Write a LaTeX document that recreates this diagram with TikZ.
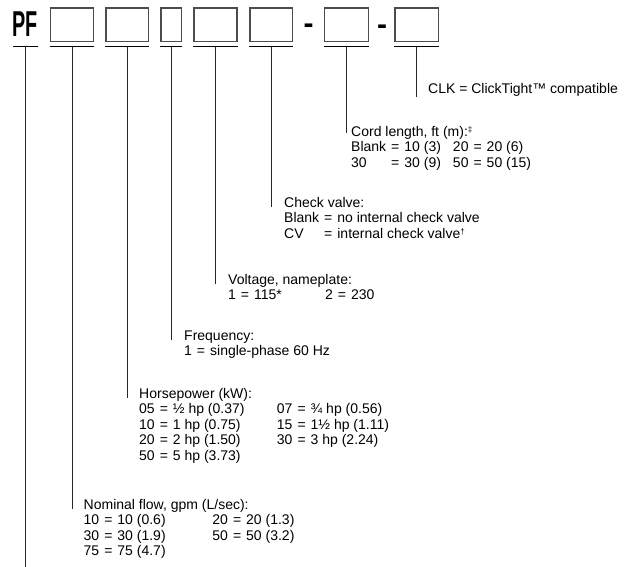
\documentclass[tikz,border=0pt]{standalone}
\usepackage{fontspec}
\usetikzlibrary{calc}
\setmainfont{Liberation Sans}
\newfontfamily\pffont{Liberation Sans}[FakeStretch=0.55]
\newcommand{\eqs}{\hspace{5pt}=\hspace{5pt}}
\newcommand{\fnm}[1]{\raisebox{3.5pt}{\fontsize{8}{8}\selectfont #1}}
\begin{document}
\begin{tikzpicture}[x=1pt,y=-1pt,
  codebox/.style={draw=black!70, line width=1.2pt, inner sep=0pt, minimum height=33.7pt},
  uline/.style={line width=0.9pt, black},
  vline/.style={line width=0.9pt, black!85},
  lbl/.style={anchor=base west, inner sep=0pt, align=left, font=\fontsize{14}{15.5}\selectfont},
  dashtxt/.style={anchor=base, inner sep=0pt, font=\fontsize{30}{30}\selectfont\bfseries}]
\useasboundingbox (0,0) rectangle (634,567);
% code
\node[anchor=base west, inner sep=0pt, font=\pffont\fontsize{36}{36}\selectfont\bfseries] (pf) at (12.5,37) {PF};
\node[codebox, minimum width=42.6pt] (b1) at (72,24.85) {};
\node[codebox, minimum width=42.6pt] (b2) at (127.3,24.85) {};
\node[codebox, minimum width=20.7pt] (b3) at (171.3,24.85) {};
\node[codebox, minimum width=43pt] (b4) at (215.5,24.85) {};
\node[codebox, minimum width=42.7pt] (b5) at (271.3,24.85) {};
\node[dashtxt] (d1) at (308.5,33.5) {-};
\node[codebox, minimum width=43.6pt] (b6) at (346.5,24.85) {};
\node[dashtxt] (d2) at (382,34.5) {-};
\node[codebox, minimum width=43.7pt] (b7) at (416.8,24.85) {};
% underlines
\coordinate (pfl) at (13,46); \coordinate (pfr) at (38,46);
\draw[uline] (pfl) -- (pfr);
\foreach \b in {b1,b2,b3,b4,b5,b6,b7}{
  \draw[uline] ([yshift=-4.3pt]\b.south west) -- ([yshift=-4.3pt]\b.south east);
}
% labels
\node[lbl] (t7) at (428,94) {CLK = ClickTight™ compatible};
\node[lbl] (t6) at (351,136) {\begin{tabular}[t]{@{}l@{\eqs}p{36.6pt}@{\hspace{12pt}}l@{\eqs}l@{}}
\multicolumn{4}{@{}l@{}}{Cord length, ft (m):\fnm{‡}}\\
Blank & 10 (3) & 20 & 20 (6)\\
30 & 30 (9) & 50 & 50 (15)
\end{tabular}};
\node[lbl] (t5) at (284,207) {\begin{tabular}[t]{@{}l@{\eqs}l@{}}
\multicolumn{2}{@{}l@{}}{Check valve:}\\
Blank & no internal check valve\\
CV & internal check valve\fnm{†}
\end{tabular}};
\node[lbl] (t4) at (228,284) {\begin{tabular}[t]{@{}l@{\eqs}p{71pt}@{}l@{\eqs}l@{}}
\multicolumn{4}{@{}l@{}}{Voltage, nameplate:}\\
1 & 115* & 2 & 230
\end{tabular}};
\node[lbl] (t3) at (184,340) {\begin{tabular}[t]{@{}l@{\eqs}l@{}}
\multicolumn{2}{@{}l@{}}{Frequency:}\\
1 & single-phase 60 Hz
\end{tabular}};
\node[lbl] (t2) at (139,398) {\begin{tabular}[t]{@{}l@{\eqs}p{104pt}@{}l@{\eqs}l@{}}
\multicolumn{4}{@{}l@{}}{Horsepower (kW):}\\
05 & ½ hp (0.37) & 07 & ¾ hp (0.56)\\
10 & 1 hp (0.75) & 15 & 1½ hp (1.11)\\
20 & 2 hp (1.50) & 30 & 3 hp (2.24)\\
50 & 5 hp (3.73)
\end{tabular}};
\node[lbl] (t1) at (83.5,509) {\begin{tabular}[t]{@{}l@{\eqs}p{95pt}@{}l@{\eqs}l@{}}
\multicolumn{4}{@{}l@{}}{Nominal flow, gpm (L/sec):}\\
10 & 10 (0.6) & 20 & 20 (1.3)\\
30 & 30 (1.9) & 50 & 50 (3.2)\\
75 & 75 (4.7)
\end{tabular}};
% leader lines
\coordinate (e0) at (25.5,567);
\coordinate (e1) at (72,509);
\coordinate (e2) at (127.3,398);
\coordinate (e3) at (171.3,340);
\coordinate (e4) at (215.5,284);
\coordinate (e5) at (271.3,207);
\coordinate (e6) at (346.5,133);
\coordinate (e7) at (416.8,97);
\draw[vline] ($(pfl)!0.5!(pfr)$) -- (e0);
\draw[vline] ([yshift=-4.3pt]b1.south) -- (e1);
\draw[vline] ([yshift=-4.3pt]b2.south) -- (e2);
\draw[vline] ([yshift=-4.3pt]b3.south) -- (e3);
\draw[vline] ([yshift=-4.3pt]b4.south) -- (e4);
\draw[vline] ([yshift=-4.3pt]b5.south) -- (e5);
\draw[vline] ([yshift=-4.3pt]b6.south) -- (e6);
\draw[vline] ([yshift=-4.3pt]b7.south) -- (e7);
\end{tikzpicture}
\end{document}
